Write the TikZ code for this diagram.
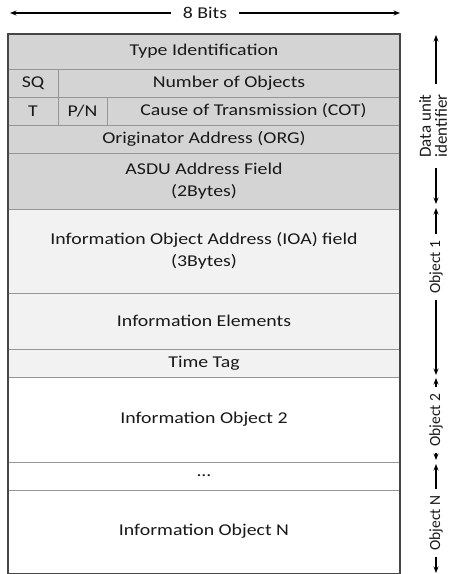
\documentclass[tikz,border=0pt]{standalone}
\usepackage{fontspec}
\setmainfont{Carlito}[FakeStretch=1.2]
\newfontfamily\sidefont{Carlito}
\usetikzlibrary{arrows.meta}
\definecolor{hdrgray}{RGB}{212,212,212}
\definecolor{objgray}{RGB}{242,242,242}
\definecolor{cellline}{RGB}{150,150,150}
\definecolor{frameline}{RGB}{70,70,70}
\definecolor{txt}{RGB}{25,25,25}
\tikzset{
  cell/.style={draw=cellline, line width=0.8pt, inner sep=0pt, anchor=center,
    text=txt, align=center, font=\fontsize{16.5}{22}\selectfont},
  hdr/.style={cell, fill=hdrgray},
  obj/.style={cell, fill=objgray},
  plain/.style={cell, fill=white},
  sidelabel/.style={rotate=90, inner sep=6pt, text=txt, align=center},
  arr/.style={-{Stealth[length=6.5pt,width=5pt]}, line width=1.3pt, black},
}
\begin{document}
\begin{tikzpicture}[x=1pt,y=-1pt]
\useasboundingbox (0,0) rectangle (452,574);
% header rows
\node[hdr, minimum width=392, minimum height=35] (ti) at (204,51.5) {Type Identification};
\node[hdr, minimum width=50, minimum height=28] (sq) at (33,83) {SQ};
\node[hdr, minimum width=342, minimum height=28] (noo) at (229,83) {Number of Objects};
\node[hdr, minimum width=50, minimum height=28] (t) at (33,111) {T};
\node[hdr, minimum width=49, minimum height=28] (pn) at (82.5,111) {P/N};
\node[hdr, minimum width=293, minimum height=28] (cot) at (253.5,111) {Cause of Transmission (COT)};
\node[hdr, minimum width=392, minimum height=28] (org) at (204,139) {Originator Address (ORG)};
\node[hdr, minimum width=392, minimum height=56] (asdu) at (204,181) {ASDU Address Field\\(2Bytes)};
% object 1
\node[obj, minimum width=392, minimum height=84] (ioa) at (204,251) {Information Object Address (IOA) field\\(3Bytes)};
\node[obj, minimum width=392, minimum height=56] (ie) at (204,321) {Information Elements};
\node[obj, minimum width=392, minimum height=28] (tt) at (204,363) {Time Tag};
% other objects
\node[plain, minimum width=392, minimum height=85] (io2) at (204,419.5) {Information Object 2};
\node[plain, minimum width=392, minimum height=28] (dots) at (204,476) {...};
\node[plain, minimum width=392, minimum height=83] (ion) at (204,531.5) {Information Object N};
% outer frame
\draw[frameline, line width=1.2pt] (8,34) rectangle (400,573.5);
% 8 bits
\node[inner xsep=12pt, text=txt, font=\fontsize{16.5}{19}\selectfont] (bits) at (205,13) {8 Bits};
\coordinate (bitsL) at (10,13);
\coordinate (bitsR) at (400,13);
\draw[arr] (bits) -- (bitsL);
\draw[arr] (bits) -- (bitsR);
% data unit identifier
\node[sidelabel, inner sep=10pt, font=\sidefont\fontsize{17}{16}\selectfont] (du) at (433,126) {Data unit\\identifier};
\coordinate (duT) at (436,35);
\coordinate (duB) at (436,204);
\draw[arr] (du.east -| duT) -- (duT);
\draw[arr] (du.west -| duB) -- (duB);
% object 1
\node[sidelabel, font=\sidefont\fontsize{15.5}{17}\selectfont] (o1) at (436,267) {Object 1};
\coordinate (o1T) at (436,208);
\coordinate (o1B) at (436,375);
\draw[arr] (o1) -- (o1T);
\draw[arr] (o1) -- (o1B);
% object 2
\node[sidelabel, font=\sidefont\fontsize{15.5}{17}\selectfont] (o2) at (436,420) {Object 2};
\coordinate (o2T) at (436,378);
\coordinate (o2B) at (436,460);
\draw[arr] (o2) -- (o2T);
\draw[arr] (o2) -- (o2B);
% object N
\node[sidelabel, font=\sidefont\fontsize{15.5}{17}\selectfont] (on) at (436,523) {Object N};
\coordinate (onT) at (436,464);
\coordinate (onB) at (436,573);
\draw[arr] (on) -- (onT);
\draw[arr] (on) -- (onB);
\end{tikzpicture}
\end{document}
